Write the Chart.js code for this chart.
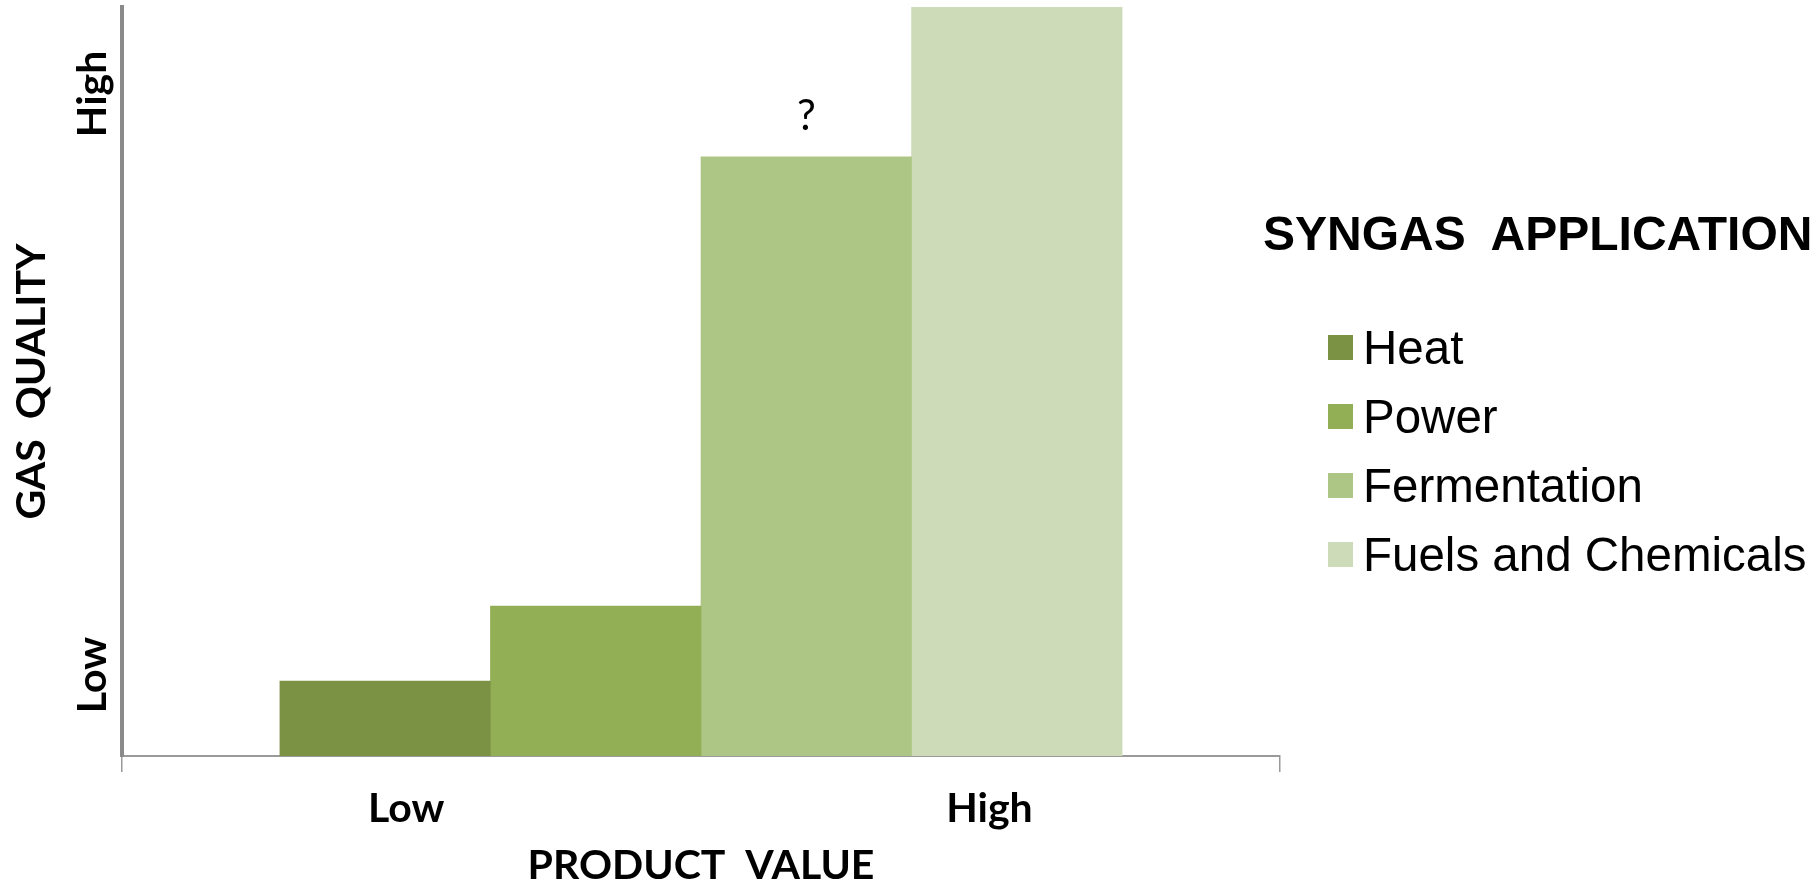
<!DOCTYPE html>
<html>
<head>
<meta charset="utf-8">
<title>Syngas application</title>
<script src="https://cdn.jsdelivr.net/npm/chart.js@4.4.1/dist/chart.umd.min.js"></script>
<style>
    html, body { margin: 0; padding: 0; background: #ffffff; overflow: hidden; }
    #wrap { position: relative; width: 1819px; height: 884px; }
    #legendTitle {
        position: absolute; left: 1263px; top: 210px;
        font-family: "Liberation Sans", Arial, sans-serif; font-weight: bold;
        font-size: 48px; line-height: 48px; white-space: pre; color: #000;
    }
    #legend { position: absolute; left: 1328px; top: 313px; margin: 0; padding: 0; list-style: none; }
    #legend li { display: flex; align-items: center; height: 69px; }
    #legend .box { width: 25px; height: 25px; flex: none; }
    #legend .txt {
        margin-left: 10px; font-family: "Liberation Sans", Arial, sans-serif;
        font-size: 47.5px; line-height: 47px; color: #000; white-space: nowrap;
    }
</style>
</head>
<body>
<div id="wrap">
    <canvas id="chart"></canvas>
    <div id="legendTitle"></div>
    <ul id="legend"></ul>
</div>
<script>
// syngas applications, placed along product value, height = gas quality
const appNames = ["Heat", "Power", "Fermentation", "Fuels and Chemicals"];
const appColors = ["#7b9244", "#92af56", "#aec685", "#cedbb8"];
const productValue = [1.25, 2.25, 3.25, 4.25];
const gasQuality = [1.0, 2.0, 8.0, 10.0];
const barNotes = ["", "", "?", ""];

const xTickValues = [0, 1.35, 4.12, 5.5];
const xTickLabels = ["", "Low", "High", ""];
const yTickValues = [1.08, 8.84];
const yTickLabels = ["Low", "High"];
const legendTitle = "SYNGAS  APPLICATION";

const axisFont = {family: "Lato", weight: "bold", size: 41, lineHeight: 1};

const barNotePlugin = {
    id: "barNotes",
    afterDatasetsDraw(chart) {
        const ctx = chart.ctx;
        ctx.save();
        ctx.font = "42px Lato";
        ctx.fillStyle = "#000";
        ctx.textAlign = "center";
        ctx.textBaseline = "alphabetic";
        chart.data.datasets.forEach((ds, i) => {
            if (!barNotes[i]) return;
            const bar = chart.getDatasetMeta(i).data[0];
            ctx.fillText(barNotes[i], bar.x, bar.y - 27);
        });
        ctx.restore();
    },
};

const htmlLegendPlugin = {
    id: "htmlLegend",
    afterUpdate(chart) {
        document.getElementById("legendTitle").textContent = legendTitle;
        const ul = document.getElementById("legend");
        ul.innerHTML = "";
        const items = chart.options.plugins.legend.labels.generateLabels(chart);
        items.forEach(item => {
            const li = document.createElement("li");
            const box = document.createElement("span");
            box.className = "box";
            box.style.background = item.fillStyle;
            const txt = document.createElement("span");
            txt.className = "txt";
            txt.textContent = item.text;
            li.appendChild(box);
            li.appendChild(txt);
            ul.appendChild(li);
        });
    },
};

const datasets = appNames.map((name, i) => ({
    label: name,
    data: [{x: productValue[i], y: gasQuality[i]}],
    backgroundColor: appColors[i],
    borderWidth: 0,
    grouped: false,
    barPercentage: 1.0,
    categoryPercentage: 1.0,
}));

new Chart(document.getElementById("chart"), {
    type: "bar",
    data: {datasets},
    options: {
        responsive: true,
        maintainAspectRatio: false,
        animation: false,
        layout: {padding: {top: 7, right: 539, bottom: 0, left: 0}},
        plugins: {
            legend: {display: false},
            tooltip: {enabled: false},
        },
        scales: {
            x: {
                type: "linear", min: 0, max: 5.5, offset: false,
                afterFit: (s) => { s.height = 128; },
                afterBuildTicks: (s) => { s.ticks = xTickValues.map(v => ({value: v})); },
                grid: {
                    offset: false, drawOnChartArea: false, drawTicks: true, tickLength: 16, lineWidth: 1.5,
                    color: (c) => xTickLabels[c.index] ? "rgba(0,0,0,0)" : "#9a9a9a",
                },
                border: {display: true, color: "#9a9a9a", width: 2},
                ticks: {
                    autoSkip: false, maxRotation: 0, padding: 16, color: "#000", font: axisFont,
                    callback: (v, i) => xTickLabels[i],
                },
                title: {
                    display: true, text: "PRODUCT  VALUE", color: "#000",
                    font: {family: "Lato", weight: "bold", size: 41, lineHeight: 0.88},
                    padding: {top: 0, bottom: 0},
                },
            },
            y: {
                min: 0, max: 10,
                afterFit: (s) => { s.width = 122; },
                afterBuildTicks: (s) => { s.ticks = yTickValues.map(v => ({value: v})); },
                grid: {display: false, drawTicks: false},
                border: {display: true, color: "#8a8a8a", width: 4},
                ticks: {
                    minRotation: 90, maxRotation: 90, crossAlign: "center", padding: -14,
                    color: "#000", font: axisFont,
                    callback: (v, i) => yTickLabels[i],
                },
                title: {
                    display: true, text: "GAS  QUALITY", color: "#000",
                    font: {family: "Lato", weight: "bold", size: 41, lineHeight: 1},
                    padding: {top: 11, bottom: 0},
                },
            },
        },
    },
    plugins: [barNotePlugin, htmlLegendPlugin],
});
</script>
</body>
</html>
